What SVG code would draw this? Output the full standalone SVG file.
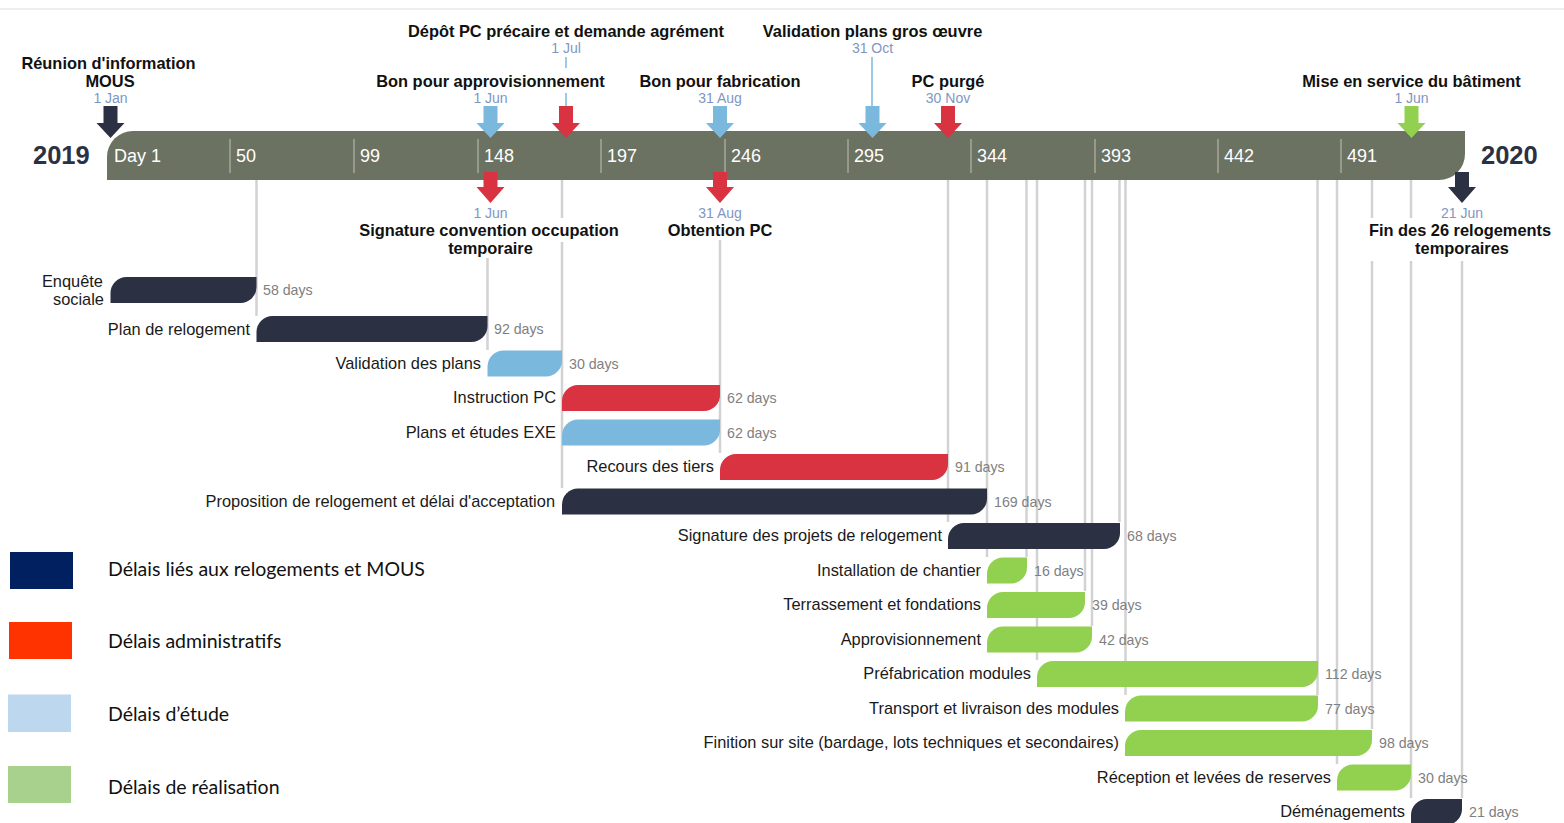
<svg xmlns="http://www.w3.org/2000/svg" xmlns:xlink="http://www.w3.org/1999/xlink" width="1564" height="823" viewBox="0 0 1564 823">
<style>
.title{font-family:"Liberation Sans",Arial,sans-serif;font-size:16.4px;font-weight:bold;fill:#111;text-anchor:middle}
.date{font-family:"Liberation Sans",Arial,sans-serif;font-size:14px;fill:#7f96c4;text-anchor:middle}
.scale{font-family:"Liberation Sans",Arial,sans-serif;font-size:18px;fill:#ffffff}
.tick{stroke:#a3a898;stroke-width:1.5}
.year{font-family:"Liberation Sans",Arial,sans-serif;font-size:25.5px;font-weight:bold;fill:#2b3142}
.lbl{font-family:"Liberation Sans",Arial,sans-serif;font-size:16.4px;fill:#1a1a1a;text-anchor:end}
.dur{font-family:"Liberation Sans",Arial,sans-serif;font-size:14.2px;fill:#7f7f7f}
.leg{font-family:Lato,"Open Sans",sans-serif;font-size:19.5px;fill:#111}
.guide{stroke:#d2d2d2;stroke-width:2.5;fill:none}
.dark{fill:#2b3142}.red{fill:#d93240}.blue{fill:#7ab8de}.green{fill:#92d050}
</style>
<defs>
<path id="arrDownTop" d="M-7,106H7V123H14L0,138L-14,123H-7Z"/>
<path id="arrDownBot" d="M-7,172H7V187H14L0,203L-14,187H-7Z"/>
</defs>
<line x1="0" y1="9" x2="1564" y2="9" stroke="#dcdcdc" stroke-width="1"/>

<!-- guide connectors -->
<g id="connectors">
<line class="guide" x1="256.5" y1="180" x2="256.5" y2="316"/>
<line class="guide" x1="487.5" y1="258" x2="487.5" y2="350"/>
<line class="guide" x1="562" y1="180" x2="562" y2="218"/>
<line class="guide" x1="562" y1="242" x2="562" y2="488"/>
<line class="guide" x1="720" y1="240" x2="720" y2="453"/>
<line class="guide" x1="948" y1="180" x2="948" y2="522"/>
<line class="guide" x1="987" y1="180" x2="987" y2="557"/>
<line class="guide" x1="1026.5" y1="180" x2="1026.5" y2="557"/>
<line class="guide" x1="1037" y1="180" x2="1037" y2="660"/>
<line class="guide" x1="1085" y1="180" x2="1085" y2="591"/>
<line class="guide" x1="1092" y1="180" x2="1092" y2="626"/>
<line class="guide" x1="1119.5" y1="180" x2="1119.5" y2="522"/>
<line class="guide" x1="1125.5" y1="180" x2="1125.5" y2="695"/>
<line class="guide" x1="1317.5" y1="180" x2="1317.5" y2="695"/>
<line class="guide" x1="1337" y1="180" x2="1337" y2="764"/>
<line class="guide" x1="1372" y1="180" x2="1372" y2="218"/>
<line class="guide" x1="1372" y1="261" x2="1372" y2="729"/>
<line class="guide" x1="1411" y1="180" x2="1411" y2="218"/>
<line class="guide" x1="1411" y1="261" x2="1411" y2="798"/>
<line class="guide" x1="1462" y1="261" x2="1462" y2="798"/>
<line x1="566" y1="57" x2="566" y2="68" stroke="#7ab8de" stroke-width="1.5"/>
<line x1="566" y1="93" x2="566" y2="107" stroke="#7ab8de" stroke-width="1.5"/>
<line x1="872" y1="57" x2="872" y2="107" stroke="#7ab8de" stroke-width="1.5"/>
</g>

<!-- timeline bar -->
<g id="timeline">
<path d="M107,180V157A26,26 0 0 1 133,131H1465V154A26,26 0 0 1 1439,180Z" fill="#6b7262"/>
<g class="tick">
<line x1="230" y1="139" x2="230" y2="173"/>
<line x1="354" y1="139" x2="354" y2="173"/>
<line x1="478" y1="139" x2="478" y2="173"/>
<line x1="601" y1="139" x2="601" y2="173"/>
<line x1="725" y1="139" x2="725" y2="173"/>
<line x1="848" y1="139" x2="848" y2="173"/>
<line x1="971" y1="139" x2="971" y2="173"/>
<line x1="1095" y1="139" x2="1095" y2="173"/>
<line x1="1218" y1="139" x2="1218" y2="173"/>
<line x1="1341" y1="139" x2="1341" y2="173"/>
</g>
<text class="scale" x="114" y="162">Day 1</text>
<text class="scale" x="236" y="162">50</text>
<text class="scale" x="360" y="162">99</text>
<text class="scale" x="484" y="162">148</text>
<text class="scale" x="607" y="162">197</text>
<text class="scale" x="731" y="162">246</text>
<text class="scale" x="854" y="162">295</text>
<text class="scale" x="977" y="162">344</text>
<text class="scale" x="1101" y="162">393</text>
<text class="scale" x="1224" y="162">442</text>
<text class="scale" x="1347" y="162">491</text>
<text class="year" x="33" y="164">2019</text>
<text class="year" x="1481" y="164">2020</text>
</g>

<!-- milestones -->
<g id="m-reunion">
<use href="#arrDownTop" x="110.5" class="dark"/>
<text class="title" x="108.5" y="69">Réunion d'information</text>
<text class="title" x="110" y="87">MOUS</text>
<text class="date" x="110.5" y="103">1 Jan</text>
</g>
<g id="m-bon-appro">
<use href="#arrDownTop" x="490.5" class="blue"/>
<text class="title" x="490.5" y="87">Bon pour approvisionnement</text>
<text class="date" x="490.5" y="103">1 Jun</text>
</g>
<g id="m-depot">
<use href="#arrDownTop" x="566" class="red"/>
<text class="title" x="566" y="37">Dépôt PC précaire et demande agrément</text>
<text class="date" x="566" y="53">1 Jul</text>
</g>
<g id="m-bon-fab">
<use href="#arrDownTop" x="720" class="blue"/>
<text class="title" x="720" y="87">Bon pour fabrication</text>
<text class="date" x="720" y="103">31 Aug</text>
</g>
<g id="m-validation-go">
<use href="#arrDownTop" x="872.5" class="blue"/>
<text class="title" x="872.5" y="37">Validation plans gros œuvre</text>
<text class="date" x="872.5" y="53">31 Oct</text>
</g>
<g id="m-pc-purge">
<use href="#arrDownTop" x="948" class="red"/>
<text class="title" x="948" y="87">PC purgé</text>
<text class="date" x="948" y="103">30 Nov</text>
</g>
<g id="m-mise-service">
<use href="#arrDownTop" x="1411.5" class="green"/>
<text class="title" x="1411.5" y="87">Mise en service du bâtiment</text>
<text class="date" x="1411.5" y="103">1 Jun</text>
</g>
<g id="m-signature-conv">
<use href="#arrDownBot" x="490.5" class="red"/>
<text class="date" x="490.5" y="218">1 Jun</text>
<text class="title" x="489" y="236">Signature convention occupation</text>
<text class="title" x="490.5" y="254">temporaire</text>
</g>
<g id="m-obtention">
<use href="#arrDownBot" x="720" class="red"/>
<text class="date" x="720" y="218">31 Aug</text>
<text class="title" x="720" y="236">Obtention PC</text>
</g>
<g id="m-fin-relog">
<use href="#arrDownBot" x="1462" class="dark"/>
<text class="date" x="1462" y="218">21 Jun</text>
<text class="title" x="1460" y="236">Fin des 26 relogements</text>
<text class="title" x="1462" y="254">temporaires</text>
</g>

<!-- tasks -->
<g id="t-enquete">
<path class="dark" d="M110.5,303V293A16,16 0 0 1 126.5,277H256.5V287A16,16 0 0 1 240.5,303Z"/>
<text class="lbl" x="103" y="287">Enquête</text>
<text class="lbl" x="104" y="305">sociale</text>
<text class="dur" x="263" y="295">58 days</text>
</g>
<g id="t-plan">
<path class="dark" d="M256.5,342V332A16,16 0 0 1 272.5,316H487.5V326A16,16 0 0 1 471.5,342Z"/>
<text class="lbl" x="250" y="335">Plan de relogement</text>
<text class="dur" x="494" y="334">92 days</text>
</g>
<g id="t-validation">
<path class="blue" d="M487.5,376.5V366.5A16,16 0 0 1 503.5,350.5H562V360.5A16,16 0 0 1 546,376.5Z"/>
<text class="lbl" x="481" y="369">Validation des plans</text>
<text class="dur" x="569" y="368.5">30 days</text>
</g>
<g id="t-instruction">
<path class="red" d="M562,411V401A16,16 0 0 1 578,385H720V395A16,16 0 0 1 704,411Z"/>
<text class="lbl" x="556" y="403">Instruction PC</text>
<text class="dur" x="727" y="403">62 days</text>
</g>
<g id="t-plans-exe">
<path class="blue" d="M562,445.5V435.5A16,16 0 0 1 578,419.5H720V429.5A16,16 0 0 1 704,445.5Z"/>
<text class="lbl" x="556" y="438">Plans et études EXE</text>
<text class="dur" x="727" y="437.5">62 days</text>
</g>
<g id="t-recours">
<path class="red" d="M720,480V470A16,16 0 0 1 736,454H948V464A16,16 0 0 1 932,480Z"/>
<text class="lbl" x="714" y="472">Recours des tiers</text>
<text class="dur" x="955" y="472">91 days</text>
</g>
<g id="t-proposition">
<path class="dark" d="M562,514.5V504.5A16,16 0 0 1 578,488.5H987V498.5A16,16 0 0 1 971,514.5Z"/>
<text class="lbl" x="555" y="506.5">Proposition de relogement et délai d'acceptation</text>
<text class="dur" x="994" y="506.5">169 days</text>
</g>
<g id="t-signature">
<path class="dark" d="M948,549V539A16,16 0 0 1 964,523H1120V533A16,16 0 0 1 1104,549Z"/>
<text class="lbl" x="942" y="541">Signature des projets de relogement</text>
<text class="dur" x="1127" y="541">68 days</text>
</g>
<g id="t-installation">
<path class="green" d="M987,583.5V573.5A16,16 0 0 1 1003,557.5H1027V567.5A16,16 0 0 1 1011,583.5Z"/>
<text class="lbl" x="981" y="575.5">Installation de chantier</text>
<text class="dur" x="1034" y="575.5">16 days</text>
</g>
<g id="t-terrassement">
<path class="green" d="M987,618V608A16,16 0 0 1 1003,592H1085V602A16,16 0 0 1 1069,618Z"/>
<text class="lbl" x="981" y="610">Terrassement et fondations</text>
<text class="dur" x="1092" y="610">39 days</text>
</g>
<g id="t-appro">
<path class="green" d="M987,652.5V642.5A16,16 0 0 1 1003,626.5H1092V636.5A16,16 0 0 1 1076,652.5Z"/>
<text class="lbl" x="981" y="644.5">Approvisionnement</text>
<text class="dur" x="1099" y="644.5">42 days</text>
</g>
<g id="t-prefab">
<path class="green" d="M1037,687V677A16,16 0 0 1 1053,661H1318V671A16,16 0 0 1 1302,687Z"/>
<text class="lbl" x="1031" y="679">Préfabrication modules</text>
<text class="dur" x="1325" y="679">112 days</text>
</g>
<g id="t-transport">
<path class="green" d="M1125,721.5V711.5A16,16 0 0 1 1141,695.5H1318V705.5A16,16 0 0 1 1302,721.5Z"/>
<text class="lbl" x="1119" y="713.5">Transport et livraison des modules</text>
<text class="dur" x="1325" y="713.5">77 days</text>
</g>
<g id="t-finition">
<path class="green" d="M1125,756V746A16,16 0 0 1 1141,730H1372V740A16,16 0 0 1 1356,756Z"/>
<text class="lbl" x="1119" y="748">Finition sur site (bardage, lots techniques et secondaires)</text>
<text class="dur" x="1379" y="748">98 days</text>
</g>
<g id="t-reception">
<path class="green" d="M1337,790.5V780.5A16,16 0 0 1 1353,764.5H1411V774.5A16,16 0 0 1 1395,790.5Z"/>
<text class="lbl" x="1331" y="782.5">Réception et levées de reserves</text>
<text class="dur" x="1418" y="782.5">30 days</text>
</g>
<g id="t-demenagements">
<path class="dark" d="M1411,825V815A16,16 0 0 1 1427,799H1462V809A16,16 0 0 1 1446,825Z"/>
<text class="lbl" x="1405" y="817">Déménagements</text>
<text class="dur" x="1469" y="817">21 days</text>
</g>

<!-- legend -->
<g id="legend">
<rect x="10" y="552" width="63" height="37" fill="#002060"/>
<rect x="9" y="622" width="63" height="37" fill="#ff3300"/>
<rect x="8" y="694.5" width="63" height="37.5" fill="#bdd7ee"/>
<rect x="8" y="766" width="63" height="37" fill="#a9d18e"/>
<text class="leg" x="108" y="576">Délais liés aux relogements et MOUS</text>
<text class="leg" x="108" y="648">Délais administratifs</text>
<text class="leg" x="108" y="721">Délais d’étude</text>
<text class="leg" x="108" y="794">Délais de réalisation</text>
</g>
</svg>
